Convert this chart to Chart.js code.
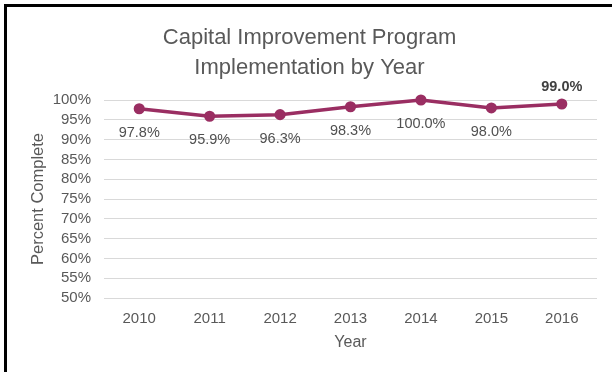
<!DOCTYPE html>
<html>
<head>
<meta charset="utf-8">
<script src="https://cdn.jsdelivr.net/npm/chart.js@4.4.1/dist/chart.umd.min.js"></script>
<style>
  html, body { margin: 0; padding: 0; background: #fff; }
  #wrap { position: relative; width: 612px; height: 372px; }
  #frame {
    position: absolute; left: 4px; top: 4px; right: 0; bottom: 0;
    border-top: 3px solid #000; border-left: 3px solid #000;
    pointer-events: none;
  }
</style>
</head>
<body>
<div id="wrap">
  <canvas id="cipChart" width="612" height="372"></canvas>
  <div id="frame"></div>
</div>
<script>
const years = ['2010', '2011', '2012', '2013', '2014', '2015', '2016'];
const percentComplete = [97.8, 95.9, 96.3, 98.3, 100.0, 98.0, 99.0];
const titleLines = ['Capital Improvement Program', 'Implementation by Year'];

const FONT = '"Liberation Sans", Arial, sans-serif';
const GREY = '#595959';

// valeurs affichées sous chaque point, la dernière en gras au-dessus
const pointLabels = {
    id: 'pointLabels',
    afterDatasetsDraw(chart) {
        const ctx = chart.ctx;
        const meta = chart.getDatasetMeta(0);
        meta.data.forEach((pt, i) => {
            const last = i === meta.data.length - 1;
            ctx.save();
            ctx.font = (last ? 'bold ' : '') + '14.5px ' + FONT;
            ctx.fillStyle = last ? '#404040' : '#505050';
            ctx.textAlign = 'center';
            ctx.textBaseline = 'middle';
            ctx.fillText(percentComplete[i].toFixed(1) + '%', pt.x, pt.y + (last ? -17 : 24));
            ctx.restore();
        });
    }
};

const ctx = document.getElementById('cipChart').getContext('2d');
new Chart(ctx, {
    type: 'line',
    data: {
        labels: years,
        datasets: [{
            data: percentComplete,
            borderColor: '#9a2e62',
            backgroundColor: '#9a2e62',
            borderWidth: 3.5,
            pointRadius: 3.8,
            pointHoverRadius: 3.8,
            tension: 0,
            clip: false
        }]
    },
    options: {
        responsive: false,
        animation: false,
        layout: { padding: { top: 0, right: 15, bottom: 20, left: 22 } },
        plugins: {
            legend: { display: false },
            tooltip: { enabled: false },
            title: {
                display: true,
                text: titleLines,
                color: GREY,
                font: { family: FONT, size: 22, weight: 'normal', lineHeight: 1.364 },
                padding: { top: 23, bottom: 17 }
            }
        },
        scales: {
            x: {
                offset: true,
                grid: { display: false, drawTicks: false },
                border: { display: false },
                ticks: { color: GREY, font: { family: FONT, size: 15 }, padding: 12 },
                title: {
                    display: true,
                    text: 'Year',
                    color: GREY,
                    font: { family: FONT, size: 16 },
                    padding: { top: 6, bottom: 0 }
                },
                afterFit: scale => { scale.height = 54; }
            },
            y: {
                min: 50,
                max: 100,
                grid: { color: '#d9d9d9', lineWidth: 1, drawTicks: false },
                border: { display: false },
                ticks: {
                    stepSize: 5,
                    autoSkip: false,
                    color: GREY,
                    font: { family: FONT, size: 15 },
                    padding: 13,
                    callback: v => v + '%'
                },
                title: {
                    display: true,
                    text: 'Percent Complete',
                    color: GREY,
                    font: { family: FONT, size: 16.5 },
                    padding: { top: 7, bottom: 0 }
                },
                afterFit: scale => { scale.width = 82; }
            }
        }
    },
    plugins: [pointLabels]
});
</script>
</body>
</html>
